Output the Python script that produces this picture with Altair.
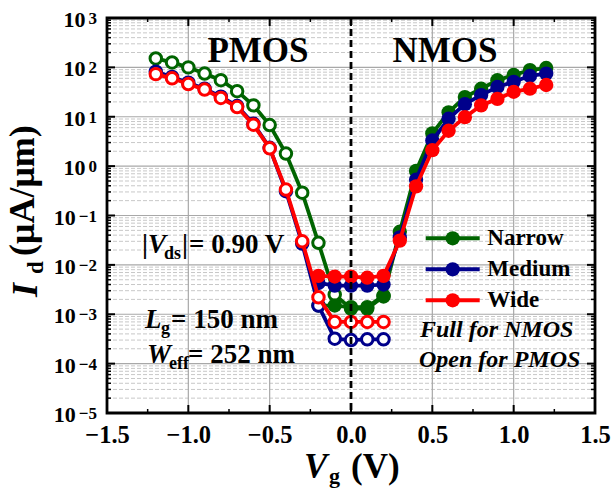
import altair as alt
import pandas as pd

FONT = "Liberation Serif"
W, H = 488, 395

series = ["Narrow", "Medium", "Wide"]
colors = ["#006400", "#00008B", "#FF0000"]

vg_pmos = [-1.2, -1.1, -1.0, -0.9, -0.8, -0.7, -0.6, -0.5, -0.4, -0.3, -0.2, -0.1, 0.0, 0.1, 0.2]
vg_nmos = [-0.2, -0.1, 0.0, 0.1, 0.2, 0.3, 0.4, 0.5, 0.6, 0.7, 0.8, 0.9, 1.0, 1.1, 1.2]

pmos_narrow = [152, 126, 100, 75, 55, 33, 17, 6.8, 1.8, 0.29, 0.028, 0.0025, 0.0013, 0.0013, 0.0023]
pmos_medium = [82, 64, 49, 37, 25.5, 16.5, 7.2, 2.35, 0.31, 0.027, 0.0015, 0.00032, 0.0003, 0.00031, 0.00031]
pmos_wide = [73, 60, 46, 35.5, 24, 15.7, 6.9, 2.3, 0.335, 0.030, 0.0022, 0.0007, 0.0007, 0.0007, 0.0007]

nmos_narrow = [0.0015, 0.0015, 0.0014, 0.0014, 0.0024, 0.047, 0.80, 4.6, 12.3, 25, 37, 55, 70, 88, 97]
nmos_medium = [0.0043, 0.0038, 0.0038, 0.0038, 0.0040, 0.036, 0.53, 3.3, 9.1, 18, 27.5, 40, 51, 67, 75]
nmos_wide = [0.0060, 0.0058, 0.0058, 0.0055, 0.0060, 0.031, 0.39, 2.1, 5.2, 9.8, 17, 23, 32, 37, 44]

x_major = [-1.5, -1.0, -0.5, 0.0, 0.5, 1.0, 1.5]
x_minor = [-1.25, -0.75, -0.25, 0.25, 0.75, 1.25]
x_grid = [-1.0, -0.5, 0.5, 1.0]
y_major = [1e-5, 1e-4, 1e-3, 1e-2, 1e-1, 1e0, 1e1, 1e2, 1e3]
y_exponents = ["−5", "−4", "−3", "−2", "−1", "0", "1", "2", "3"]
y_grid = [1e-4, 1e-3, 1e-2, 1e-1, 1e0, 1e1, 1e2]
y_minor = [m * d for d in [1e-5, 1e-4, 1e-3, 1e-2, 1e-1, 1e0, 1e1, 1e2] for m in [2, 3, 4, 5, 6, 7, 8, 9]]

rows = []
for s, p, n in zip(series, [pmos_narrow, pmos_medium, pmos_wide], [nmos_narrow, nmos_medium, nmos_wide]):
    for x, y in zip(vg_pmos, p):
        rows.append({"series": s, "kind": "PMOS", "vg": x, "id": y})
    for x, y in zip(vg_nmos, n):
        rows.append({"series": s, "kind": "NMOS", "vg": x, "id": y})
df = pd.DataFrame(rows)

xscale = alt.Scale(domain=[-1.5, 1.5], nice=False, zero=False)
yscale = alt.Scale(type="log", domain=[1e-5, 1e3], nice=False)
xaxis = alt.Axis(values=x_major, format=".1f", labelFont=FONT, labelFontSize=24.5,
                 labelFontWeight="bold", labelColor="black", labelPadding=10,
                 labelFlush=False, labelOverlap=False, ticks=False, domain=False,
                 grid=False, title=None)


def X(f):
    return alt.X(f, type="quantitative", scale=xscale, axis=xaxis)


def Y(f):
    return alt.Y(f, type="quantitative", scale=yscale, axis=None)


C = alt.Color("series:N", scale=alt.Scale(domain=series, range=colors), legend=None)

one = pd.DataFrame({"a": [0]})

layers = []
# grids
layers.append(alt.Chart(pd.DataFrame({"v": y_minor})).mark_rule(color="#c8c8c8", strokeWidth=1, strokeDash=[4, 2]).encode(
    y=Y("v"), x=alt.value(0), x2=alt.value(W)))
layers.append(alt.Chart(pd.DataFrame({"v": y_grid})).mark_rule(color="#a8a8a8", strokeWidth=1.2).encode(
    y=Y("v"), x=alt.value(0), x2=alt.value(W)))
layers.append(alt.Chart(pd.DataFrame({"v": x_grid})).mark_rule(color="#a8a8a8", strokeWidth=1.2).encode(
    x=X("v"), y=alt.value(0), y2=alt.value(H)))

# data
for s in series:
    base = alt.Chart(df).transform_filter(alt.datum.series == s)
    layers.append(base.mark_line(strokeWidth=3.8).encode(
        x=X("vg"), y=Y("id"), color=C, detail="kind:N", order="vg:Q"))
    layers.append(base.transform_filter(alt.datum.kind == "PMOS").mark_point(
        shape="circle", filled=False, fill="white", fillOpacity=1, size=132, strokeWidth=3, opacity=1).encode(
        x=X("vg"), y=Y("id"), color=C))
    layers.append(base.transform_filter(alt.datum.kind == "NMOS").mark_point(
        shape="circle", filled=True, size=205, opacity=1).encode(
        x=X("vg"), y=Y("id"), color=C))

# zero dashed line
layers.append(alt.Chart(pd.DataFrame({"v": [0.0]})).mark_rule(color="black", strokeWidth=2.8, strokeDash=[7, 4]).encode(
    x=X("v"), y=alt.value(0), y2=alt.value(H)))

# ticks (inward)
dxM = pd.DataFrame({"v": x_major})
dxm = pd.DataFrame({"v": x_minor})
dyM = pd.DataFrame({"v": y_major})
dym = pd.DataFrame({"v": y_minor})
for d, L, w in [(dxM, 8, 2), (dxm, 4, 1.5)]:
    layers.append(alt.Chart(d).mark_rule(color="black", strokeWidth=w).encode(x=X("v"), y=alt.value(H - L), y2=alt.value(H)))
    layers.append(alt.Chart(d).mark_rule(color="black", strokeWidth=w).encode(x=X("v"), y=alt.value(0), y2=alt.value(L)))
for d, L, w in [(dyM, 8, 2), (dym, 4, 1.5)]:
    layers.append(alt.Chart(d).mark_rule(color="black", strokeWidth=w).encode(y=Y("v"), x=alt.value(0), x2=alt.value(L)))
    layers.append(alt.Chart(d).mark_rule(color="black", strokeWidth=w).encode(y=Y("v"), x=alt.value(W - L), x2=alt.value(W)))

# frame
layers.append(alt.Chart(one).mark_rect(fillOpacity=0, stroke="black", strokeWidth=2.8).encode(
    x=alt.value(0), x2=alt.value(W), y=alt.value(0), y2=alt.value(H)))

# y tick labels: "10" plus a raised exponent, right-aligned as a unit
EXP_FS, BASE_FS = 17, 22
ylab = pd.DataFrame({"v": y_major, "e": y_exponents})
ylab["base"] = "10"
ylab["bx"] = [-13 - EXP_FS * (0.5 * sum(ch.isdigit() for ch in e) + 0.57 * e.count("−")) for e in y_exponents]
layers.append(alt.Chart(ylab).mark_text(
    font=FONT, fontSize=EXP_FS, fontWeight="bold", color="black", align="right",
    baseline="alphabetic", dy=6).encode(y=Y("v"), x=alt.value(-10), text="e:N"))
layers.append(alt.Chart(ylab).mark_text(
    font=FONT, fontSize=BASE_FS, fontWeight="bold", color="black", align="right",
    baseline="alphabetic", dy=9).encode(y=Y("v"), x=alt.X("bx:Q", scale=None), text="base:N"))


def label(txt, px, py, size, italic=False, align="left", angle=0, baseline="alphabetic"):
    return alt.Chart(one).mark_text(
        text=txt, font=FONT, fontSize=size, fontWeight="bold",
        fontStyle="italic" if italic else "normal", align=align,
        baseline=baseline, angle=angle, color="black").encode(
        x=alt.value(px), y=alt.value(py))


# legend (drawn by hand)
leg_cx, leg_y0, leg_dy = 345.7, 220.3, 31
for i, (s, c) in enumerate(zip(series, colors)):
    yy = leg_y0 + i * leg_dy
    layers.append(alt.Chart(one).mark_rule(color=c, strokeWidth=4).encode(
        x=alt.value(leg_cx - 27), x2=alt.value(leg_cx + 27), y=alt.value(yy)))
    layers.append(alt.Chart(one).mark_point(shape="circle", filled=True, size=205, color=c, opacity=1).encode(
        x=alt.value(leg_cx), y=alt.value(yy)))
    layers.append(label(s, leg_cx + 34.6, yy, 23, baseline="middle"))

layers += [
    label("PMOS", 151, 44, 35, align="center"),
    label("NMOS", 338, 44, 35, align="center"),
    label("|", 35, 235, 27),
    label("V", 41, 235, 27, italic=True),
    label("ds", 57, 241, 18),
    label("|", 75, 235, 27),
    label("= 0.90 V", 82, 235, 27),
    label("L", 38, 310, 27, italic=True),
    label("g", 54, 316, 18),
    label("= 150 nm", 64, 310, 27),
    label("W", 40, 345, 27, italic=True),
    label("eff", 62, 351, 18),
    label("= 252 nm", 81, 345, 27),
    label("Full for NMOS", 313, 319, 24, italic=True),
    label("Open for PMOS", 312, 349, 24, italic=True),
    # x title
    label("V", 197, 460, 35, italic=True),
    label("g", 222, 465, 22),
    label("(V)", 244, 460, 35),
    # y title
    label("I", -70, 279, 36, italic=True, angle=270),
    label("d", -64, 256, 23, angle=270),
    label("(μA/μm)", -73, 238, 36, angle=270),
]

chart = alt.layer(*layers).properties(
    width=W, height=H,
    autosize=alt.AutoSizeParams(type="none"),
    padding={"left": 107, "top": 18, "right": 20, "bottom": 81},
).configure_view(stroke=None)

chart.save("out.html", embed_options={"renderer": "svg", "actions": False})
